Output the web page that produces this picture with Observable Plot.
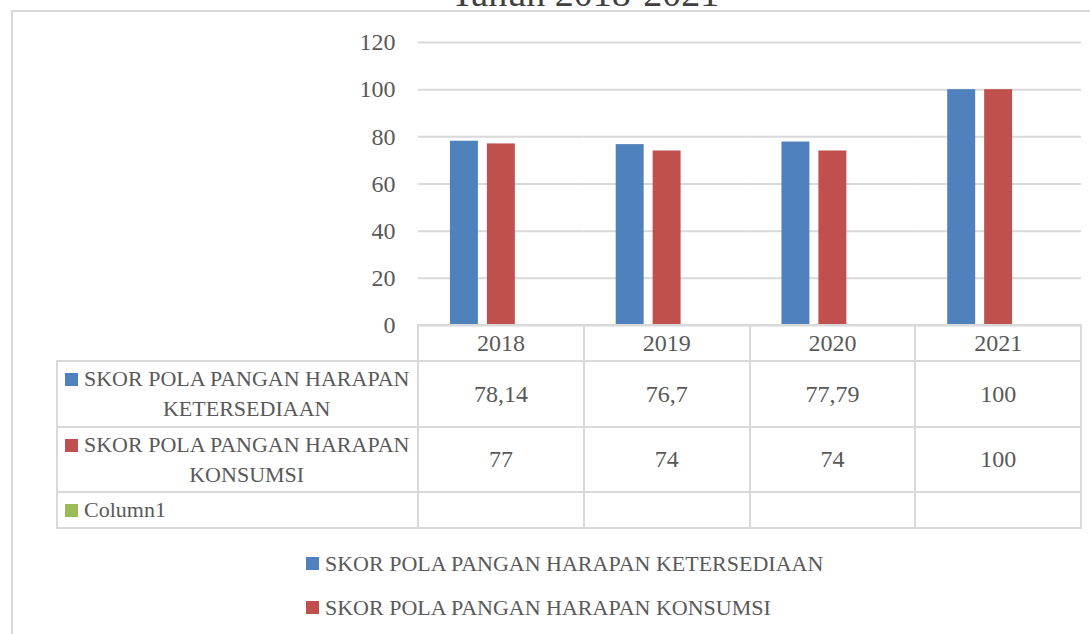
<!DOCTYPE html>
<html>
<head>
<meta charset="utf-8">
<script src="https://cdn.jsdelivr.net/npm/d3@7"></script>
<script src="https://cdn.jsdelivr.net/npm/@observablehq/plot@0.6"></script>
<style>
  html, body { margin: 0; padding: 0; background: #fff; }
  #page { position: relative; width: 1090px; height: 634px; overflow: hidden; font-family: "Liberation Serif", serif; color: #595959; }
  #frame { position: absolute; left: 11px; top: 10px; right: -10px; bottom: -10px; border-left: 2px solid #d9d9d9; border-top: 2px solid #d9d9d9; }
  #title { position: absolute; left: 585px; top: -26px; transform: translateX(-50%); font-size: 38px; line-height: 38px; color: #404040; white-space: nowrap; }
  #chart { position: absolute; left: 0; top: 0; }
  #datatable { position: absolute; left: 56px; top: 324px; border-collapse: collapse; table-layout: fixed; }
  #datatable td { border: 2px solid #d9d9d9; padding: 0; text-align: center; vertical-align: middle; font-size: 24px; white-space: nowrap; }
  #datatable td.blank { border: none; }
  #datatable td.label { text-align: left; padding-left: 7px; }
  .sw { display: inline-block; width: 13px; height: 13px; margin-right: 6px; vertical-align: top; }
  .lbl { display: inline-block; text-align: center; font-size: 22px; line-height: 30px; vertical-align: top; }
  #legend { position: absolute; left: 306px; top: 545px; }
  #legend .item { display: flex; align-items: center; height: 37px; margin-bottom: 7px; font-size: 22px; white-space: nowrap; }
  #legend .item .sw { vertical-align: middle; margin-right: 6px; }
</style>
</head>
<body>
<div id="page">
  <div id="frame"></div>
  <div id="title">Tahun 2018-2021</div>
  <div id="chart"></div>
  <table id="datatable"></table>
  <div id="legend"></div>
</div>
<script>
// Years on the category axis
const years = ["2018", "2019", "2020", "2021"];
// Series names (the third series holds no values)
const seriesNames = [
  "SKOR POLA PANGAN HARAPAN KETERSEDIAAN",
  "SKOR POLA PANGAN HARAPAN KONSUMSI",
  "Column1"
];
// Table labels, split over two lines where the names wrap
const seriesLines = [
  ["SKOR POLA PANGAN HARAPAN", "KETERSEDIAAN"],
  ["SKOR POLA PANGAN HARAPAN", "KONSUMSI"],
  ["Column1"]
];
// Series values per year
const ketersediaan = [78.14, 76.7, 77.79, 100];
const konsumsi = [77, 74, 74, 100];
const column1 = [null, null, null, null];
// Value axis ticks
const yTicks = [0, 20, 40, 60, 80, 100, 120];
// Series colours
const seriesColors = ["#4F81BD", "#C0504D", "#9BBB59"];
// Series shown in the bottom legend
const legendSeries = [0, 1];

const seriesValues = [ketersediaan, konsumsi, column1];

// Long-format rows for the bars
const rows = [];
seriesValues.forEach((vals, s) => {
  vals.forEach((v, i) => {
    if (v != null) rows.push({ year: years[i], series: seriesNames[s], value: v });
  });
});

const chart = Plot.plot({
  width: 1090,
  height: 326,
  marginLeft: 418,
  marginRight: 9,
  marginTop: 42,
  marginBottom: 1,
  style: { fontFamily: "Liberation Serif, serif", fontSize: "24px", color: "#595959", background: "transparent", overflow: "visible" },
  fx: { domain: years, padding: 0, round: false, axis: null },
  x: { domain: seriesNames, paddingInner: 0.2432, paddingOuter: 0.8649, round: false, axis: null },
  y: { domain: [0, 120], ticks: yTicks, tickSize: 0, tickPadding: 23, label: null },
  color: { domain: seriesNames, range: seriesColors },
  marks: [
    Plot.ruleY(yTicks, { stroke: "#d9d9d9", strokeWidth: 2 }),
    Plot.barY(rows, { fx: "year", x: "series", y: "value", fill: "series" })
  ]
});
document.getElementById("chart").appendChild(chart);

// Data table beneath the plot, columns aligned with the year bands
const fmt = v => (v == null ? "" : String(v).replace(".", ","));
const table = document.getElementById("datatable");
const colgroup = document.createElement("colgroup");
[361, 165.75, 165.75, 165.75, 165.75].forEach(w => {
  const c = document.createElement("col");
  c.style.width = w + "px";
  colgroup.appendChild(c);
});
table.appendChild(colgroup);

const head = document.createElement("tr");
head.style.height = "36px";
const blank = document.createElement("td");
blank.className = "blank";
head.appendChild(blank);
years.forEach(y => {
  const td = document.createElement("td");
  td.textContent = y;
  head.appendChild(td);
});
table.appendChild(head);

const rowHeights = [66, 65, 36];
seriesNames.forEach((name, s) => {
  const tr = document.createElement("tr");
  tr.style.height = rowHeights[s] + "px";
  const lab = document.createElement("td");
  lab.className = "label";
  const sw = document.createElement("span");
  sw.className = "sw";
  sw.style.background = seriesColors[s];
  sw.style.marginTop = "9px";
  const txt = document.createElement("span");
  txt.className = "lbl";
  txt.innerHTML = seriesLines[s].join("<br>");
  lab.appendChild(sw);
  lab.appendChild(txt);
  tr.appendChild(lab);
  seriesValues[s].forEach(v => {
    const td = document.createElement("td");
    td.textContent = fmt(v);
    tr.appendChild(td);
  });
  table.appendChild(tr);
});

// Legend listing the two scored series
const legend = document.getElementById("legend");
legendSeries.forEach(s => {
  const item = document.createElement("div");
  item.className = "item";
  const sw = document.createElement("span");
  sw.className = "sw";
  sw.style.background = seriesColors[s];
  const t = document.createElement("span");
  t.textContent = seriesNames[s];
  item.appendChild(sw);
  item.appendChild(t);
  legend.appendChild(item);
});
</script>
</body>
</html>
